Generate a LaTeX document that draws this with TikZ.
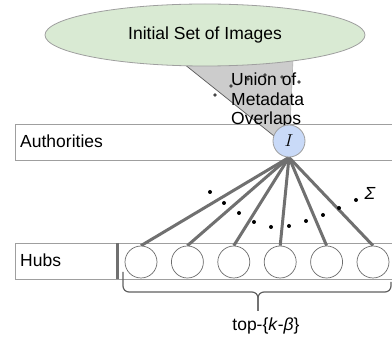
\documentclass[tikz,border=0pt]{standalone}
\usepackage{fontspec}
\setsansfont{Liberation Sans}
\usetikzlibrary{shapes.geometric}
\definecolor{setgreen}{HTML}{D9EAD3}
\definecolor{authblue}{HTML}{C9DAF8}
\definecolor{linkgray}{HTML}{707070}
\definecolor{wedgegray}{HTML}{CCCCCC}
\pgfdeclarelayer{bands}
\pgfdeclarelayer{links}
\pgfsetlayers{bands,links,main}
\begin{document}
\begin{tikzpicture}[x=1pt, y=-1pt, font=\sffamily\fontsize{17.5}{19.5}\selectfont,
      band/.style={draw=gray!75, fill=white, line width=0.8pt, minimum height=36pt,
        anchor=north west, inner sep=0pt},
      lbl/.style={anchor=base west, inner sep=0pt},
      hub/.style={circle, draw=gray!85!black, fill=white, line width=0.7pt,
        minimum size=32pt, inner sep=0pt},
      link/.style={draw=linkgray, line width=3pt},
      brc/.style={draw=gray!75!black, line width=1.2pt, rounded corners=6pt}]
    \useasboundingbox (0,0) rectangle (392,339);
    % pixel coordinates of the 392x339 layout, y grows downwards
    \begin{pgfonlayer}{bands}
    \node[band, minimum width=382pt] (authband) at (15,124) {};
    \node[band, minimum width=382pt] (hubband) at (15,243) {};
    % wedge from the image set down to I
    \fill[wedgegray] (184,64) -- (293,60) -- (289,148) -- cycle;
    \draw[gray!70!black, line width=0.7pt] (184,64) -- (289,148);
    \draw[gray!60, line width=0.6pt] (293,60) -- (289,148);
    \end{pgfonlayer}
    \node[lbl] (authlbl) at (20,148) {Authorities};
    \node[lbl] (hublbl) at (20,267) {Hubs};
    \draw[linkgray, line width=3pt] (117,243) -- (117,279);
    \node[ellipse, draw=gray!75, fill=setgreen, line width=0.8pt,
      minimum width=320pt, minimum height=62pt] (imgs) at (205,35) {Initial Set of Images};
    \foreach \p in {(215,95),(231,86),(248,79),(265,75),(282,77),(299,82)}
      \fill[gray!55!black] \p circle (1.8);
    \node[anchor=north west, align=left, inner sep=0pt] (union) at (231,73)
      {Union of\\Metadata\\Overlaps};
    % I and the hubs below it
    \node[circle, draw=gray!75, fill=authblue, line width=0.8pt, minimum size=32pt,
      inner sep=0pt] (auth) at (289,141) {$I$};
    \foreach \i in {1,...,6}
      \node[hub] (h\i) at ({141+46.4*(\i-1)},262) {};
    \begin{pgfonlayer}{links}
    \foreach \i in {1,...,6}
      \draw[link] (auth.south) -- (h\i.north);
    \end{pgfonlayer}
    \foreach \p in {(210,192),(224,203),(239,213),(254,222),(271,227),(289,226),
        (306,221),(323,215),(339,208),(356,200)}
      \fill \p circle (2);
    \node (sum) at (370,193) {\textit{Σ}};
    % brace under the hubs
    \draw[brc] (123,272) -- (123,292) -- (258,292) -- (258,311);
    \draw[brc] (391,282) -- (391,292) -- (258,292) -- (258,311);
    \node[anchor=base] (topk) at (266,331) {top-\{\textit{k}-\textit{β}\}};
  \end{tikzpicture}
\end{document}
